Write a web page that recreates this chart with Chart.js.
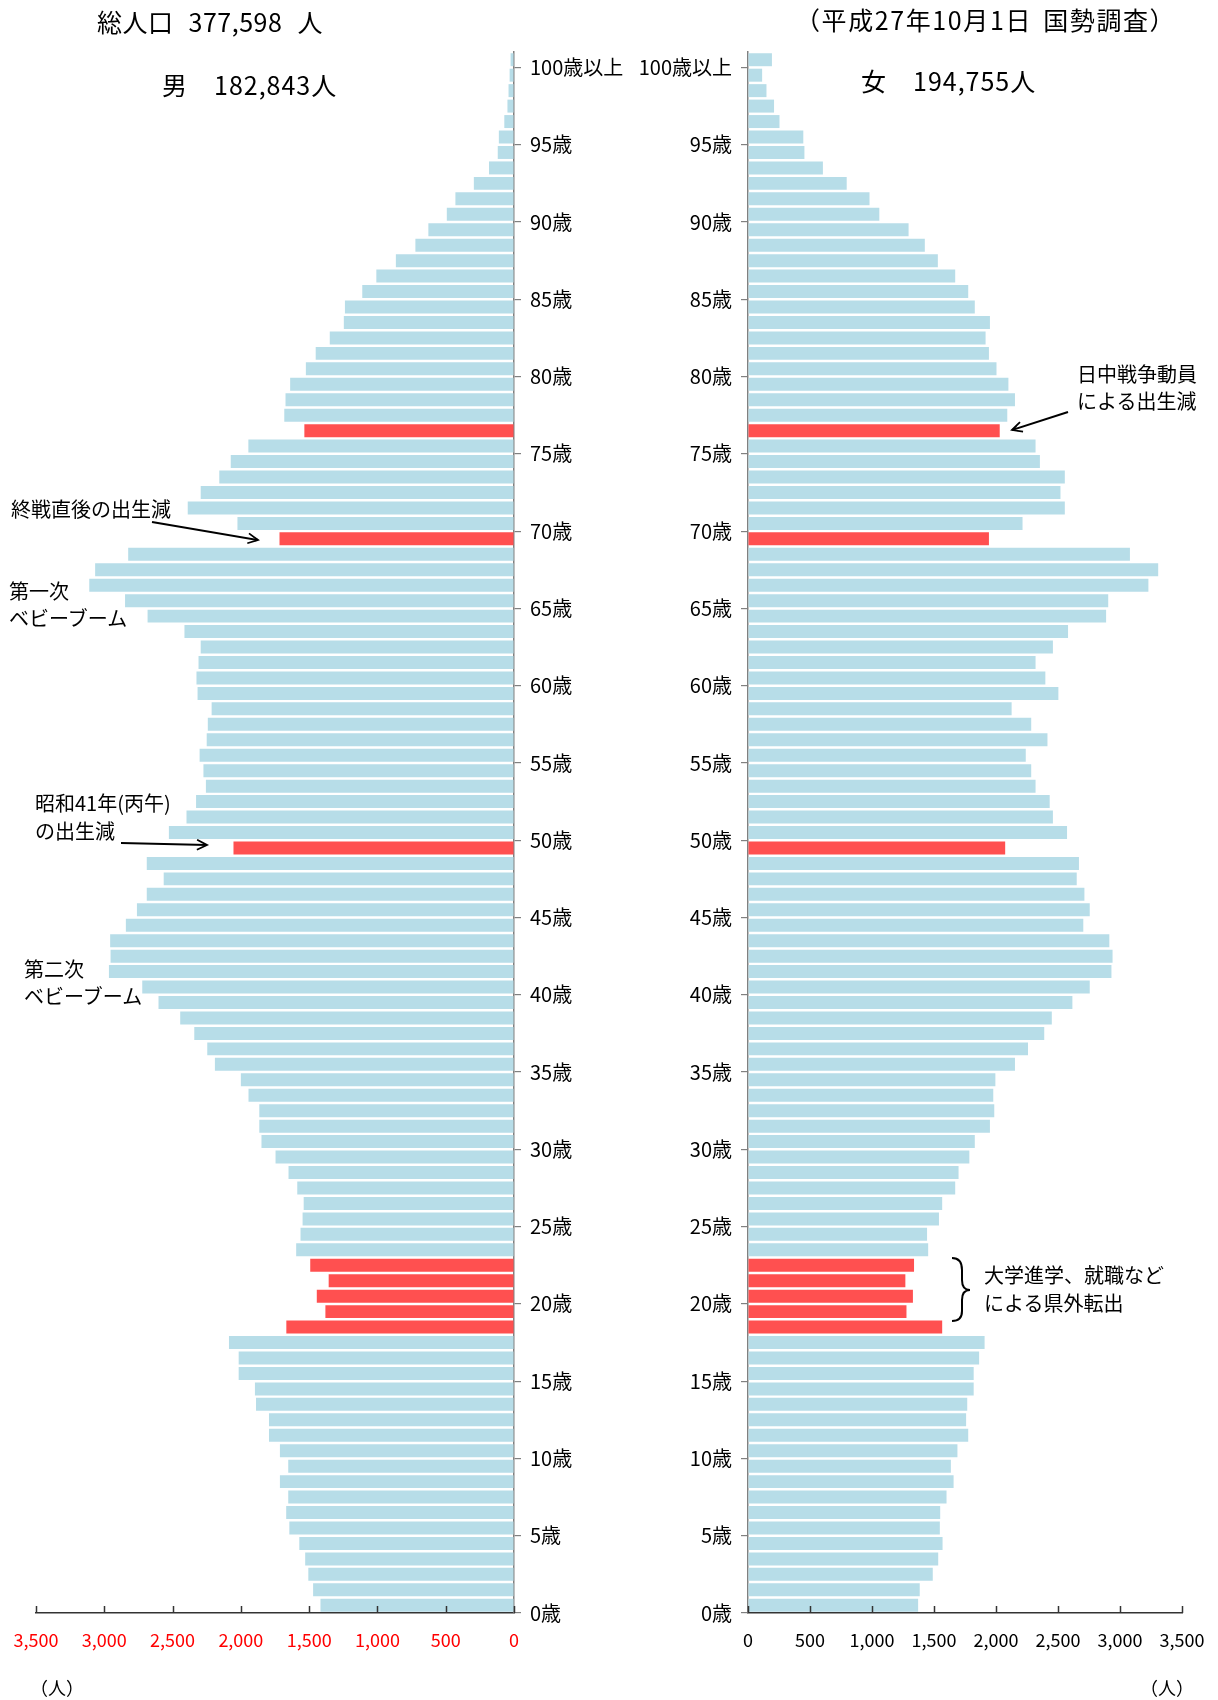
<!DOCTYPE html>
<html><head><meta charset="utf-8">
<script src="https://cdn.jsdelivr.net/npm/chart.js@4.4.1/dist/chart.umd.min.js"></script>
<style>
body{margin:0;background:#fff;width:1218px;height:1700px;position:relative;overflow:hidden;font-family:"Noto Sans CJK JP","Noto Sans",sans-serif;color:#000}
.t{position:absolute;white-space:nowrap;line-height:1}
canvas{position:absolute;top:0}
</style></head><body>
<canvas id="male" width="640" height="1700" style="left:0;width:640px;height:1700px"></canvas>
<canvas id="female" width="618" height="1700" style="left:600px;width:618px;height:1700px"></canvas>

<div class="t" style="left:97px;top:9px;font-size:25px;word-spacing:9px;letter-spacing:0.5px">総人口 377,598 人</div>
<div class="t" style="left:162px;top:72px;font-size:25px;letter-spacing:1px">男　182,843人</div>
<div class="t" style="left:795px;top:7px;font-size:25px;letter-spacing:1.6px;word-spacing:4px">（平成27年10月1日 国勢調査）</div>
<div class="t" style="left:861px;top:68px;font-size:25px;letter-spacing:1px">女　194,755人</div>

<div class="t" style="left:1077px;top:360px;font-size:20px;line-height:27px">日中戦争動員<br>による出生減</div>
<div class="t" style="left:11px;top:499px;font-size:20px">終戦直後の出生減</div>
<div class="t" style="left:9px;top:577px;font-size:20px;line-height:27px">第一次<br>ベビーブーム</div>
<div class="t" style="left:35px;top:789px;font-size:20px;line-height:28px">昭和41年(丙午)<br>の出生減</div>
<div class="t" style="left:24px;top:955px;font-size:20px;line-height:27px">第二次<br>ベビーブーム</div>
<div class="t" style="left:984px;top:1261px;font-size:20px;line-height:28px">大学進学、就職など<br>による県外転出</div>
<div class="t" style="left:30px;top:1678px;font-size:18px">（人）</div>
<div class="t" style="left:1140px;top:1678px;font-size:18px">（人）</div>

<svg width="1218" height="1700" style="position:absolute;left:0;top:0;pointer-events:none">
<defs><marker id="ah" markerWidth="14" markerHeight="12" refX="11" refY="6" orient="auto" markerUnits="userSpaceOnUse"><path d="M1,1 L11,6 L1,11" fill="none" stroke="#000" stroke-width="1.8"/></marker></defs>
<line x1="1068" y1="412" x2="1012" y2="430" stroke="#000" stroke-width="2" marker-end="url(#ah)"/>
<line x1="152" y1="522" x2="258" y2="540" stroke="#000" stroke-width="2" marker-end="url(#ah)"/>
<line x1="121" y1="843" x2="207" y2="845" stroke="#000" stroke-width="2" marker-end="url(#ah)"/>
<path d="M952,1258 Q962,1258 962,1270 L962,1280 Q962,1290 970,1290 Q962,1290 962,1300 L962,1311 Q962,1321 952,1321" fill="none" stroke="#000" stroke-width="2"/>
</svg>

<script>
// ages 0..100 (100 = 100歳以上)
const ages = Array.from({length:101}, (_, i) => i);
const yTickValues = [0,5,10,15,20,25,30,35,40,45,50,55,60,65,70,75,80,85,90,95,100];
const yTickLabels = ["0歳","5歳","10歳","15歳","20歳","25歳","30歳","35歳","40歳","45歳","50歳","55歳","60歳","65歳","70歳","75歳","80歳","85歳","90歳","95歳","100歳以上"];
const xTickValues = [0,500,1000,1500,2000,2500,3000,3500];
const highlightAges = [18,19,20,21,22,49,69,76];

const male = [
1417,1471,1506,1529,1572,1645,1668,1653,1714,1653,
1714,1794,1794,1889,1897,2016,2016,2087,1667,1381,
1444,1357,1492,1595,1563,1548,1540,1587,1651,1746,
1849,1865,1865,1944,2000,2190,2246,2341,2444,2603,
2722,2966,2954,2957,2842,2761,2689,2565,2689,2054,
2527,2398,2328,2256,2274,2302,2250,2242,2214,2317,
2325,2310,2294,2413,2683,2848,3110,3067,2825,1717,
2025,2389,2294,2158,2074,1945,1535,1682,1673,1639,
1524,1452,1349,1246,1238,1111,1008,865,722,627,
492,429,294,183,119,111,71,48,40,32,25];

const female = [
1372,1385,1490,1534,1569,1547,1550,1601,1658,1636,
1689,1776,1759,1768,1820,1820,1864,1908,1566,1278,
1330,1269,1339,1453,1444,1540,1566,1671,1698,1785,
1829,1951,1986,1978,1995,2153,2258,2389,2450,2616,
2756,2931,2940,2914,2704,2756,2713,2651,2669,2074,
2573,2459,2433,2319,2284,2240,2415,2284,2126,2503,
2398,2319,2459,2581,2888,2905,3229,3308,3080,1943,
2214,2555,2520,2555,2354,2319,2030,2091,2153,2100,
2004,1943,1916,1951,1829,1776,1671,1531,1426,1295,
1059,980,796,604,455,446,254,210,149,114,193];

const BLUE = '#b7dde8', RED = '#ff5050';
const FONT = '"Noto Sans CJK JP","Noto Sans",sans-serif';

const innerTicks = {
  id:'innerTicks',
  afterDraw(chart){
    const s = chart.scales.x, ctx = chart.ctx;
    ctx.save(); ctx.strokeStyle = '#333'; ctx.lineWidth = 1.5;
    xTickValues.forEach(v => {
      const px = Math.round(s.getPixelForValue(v)) + 0.5;
      ctx.beginPath(); ctx.moveTo(px, s.top); ctx.lineTo(px, s.top - 7); ctx.stroke();
    });
    ctx.restore();
  }
};

function makeChart(id, values, isLeft){
  return new Chart(document.getElementById(id), {
    type:'bar',
    data:{datasets:[{
      data: ages.map((a,i) => ({x: values[i], y: a + 0.5})),
      backgroundColor: ctx => highlightAges.includes(ages[ctx.dataIndex]) ? RED : BLUE,
      borderWidth:0,
      barPercentage:0.84,
      categoryPercentage:1
    }]},
    options:{
      indexAxis:'y',
      responsive:false,
      animation:false,
      layout:{padding: isLeft ? {left:36, top:52, right:0, bottom:0} : {left:0, top:52, right:36, bottom:0}},
      plugins:{legend:{display:false}, tooltip:{enabled:false}},
      scales:{
        x:{
          type:'linear', min:0, max:3500, reverse:isLeft, offset:false,
          afterBuildTicks: s => { s.ticks = xTickValues.map(v => ({value:v})); },
          afterFit: s => { s.height = 87; s.paddingLeft = 0; s.paddingRight = 0; },
          grid:{drawOnChartArea:false, drawTicks:false, offset:false},
          border:{color:'#333', width:1.5},
          ticks:{padding:16, color: isLeft ? '#ff0000' : '#000', font:{family:FONT, size:18},
                 callback: v => v.toLocaleString('en-US'), maxRotation:0, autoSkip:false}
        },
        y:{
          type:'linear', min:0, max:101, position: isLeft ? 'right' : 'left', offset:false,
          afterBuildTicks: s => { s.ticks = yTickValues.map(v => ({value:v})); },
          afterFit: s => { s.width = isLeft ? 126 : 148; s.paddingTop = 0; s.paddingBottom = 0; },
          grid:{drawOnChartArea:false, offset:false, color:'#808080', tickLength:7, lineWidth:1.2},
          border:{color:'#808080', width:1.5},
          ticks:{padding:9, color:'#000', font:{family:FONT, size:20}, autoSkip:false,
                 callback: v => yTickLabels[yTickValues.indexOf(v)]}
        }
      }
    },
    plugins:[innerTicks]
  });
}
makeChart('male', male, true);
makeChart('female', female, false);
</script>
</body></html>
